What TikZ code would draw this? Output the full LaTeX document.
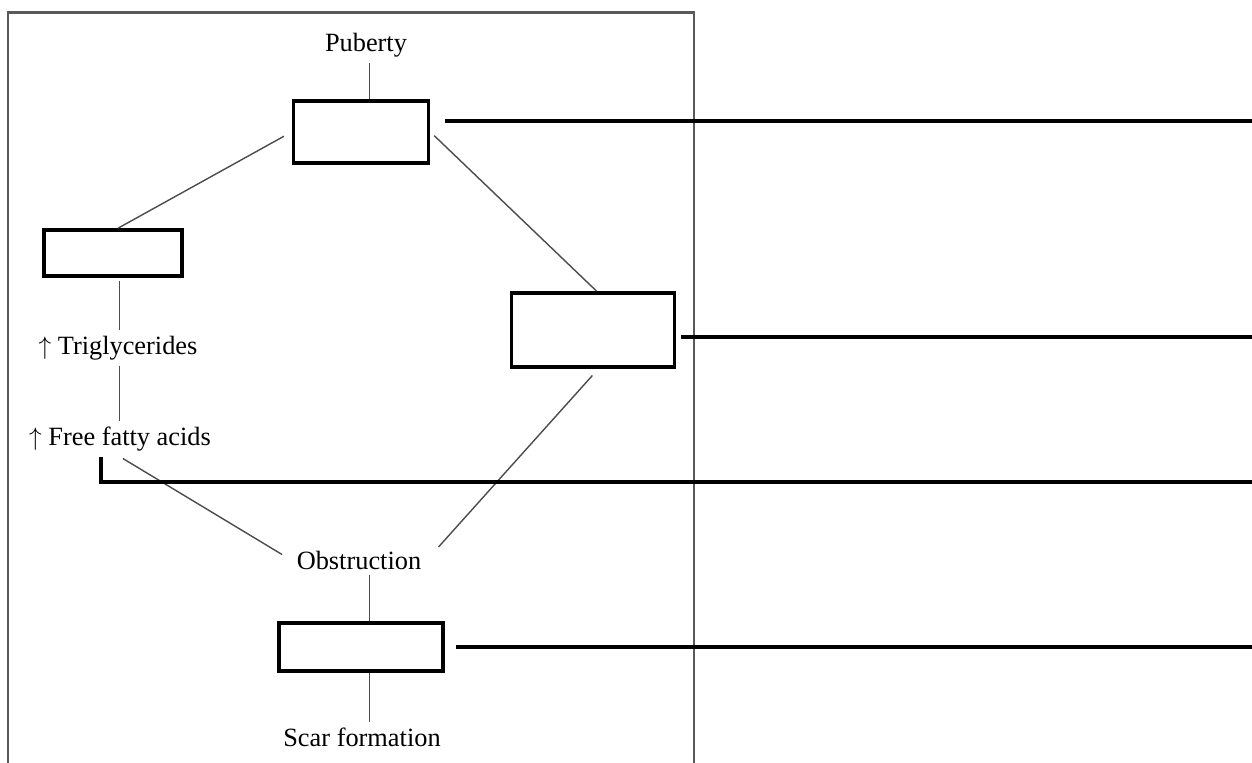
\documentclass[tikz,border=0pt]{standalone}
\usepackage{fontspec}
\setmainfont{Liberation Serif}
\usetikzlibrary{positioning}

\begin{document}
\begin{tikzpicture}[x=0.02cm, y=-0.02cm,
        box/.style={draw, rectangle, line width=2.2pt, inner sep=0pt},
        lbl/.style={font=\fontsize{15}{18}\selectfont, inner sep=3pt},
        link/.style={draw=black!70, line width=0.8pt},
        leader/.style={line width=2.3pt}]
        \useasboundingbox (0,0) rectangle (1252,762);

        % frame, open at the bottom
        \draw[black!65, line width=1.7pt] (8,770) -- (8,12) -- (694,12) -- (694,770);

        \node[lbl] (puberty) at (366,45) {Puberty};
        \node[box, minimum width=2.7cm, minimum height=1.24cm] (topbox) at (361,132) {};
        \node[box, minimum width=2.76cm, minimum height=0.92cm] (leftbox) at (113,253) {};
        \node[box, minimum width=3.26cm, minimum height=1.48cm] (rightbox) at (593,330) {};

        \node[lbl] (trig) at (118,348) {$\uparrow$ Triglycerides};
        \node[lbl] (ffa) at (120,439) {$\uparrow$ Free fatty acids};
        \node[lbl] (obs) at (359,560) {Obstruction};

        \node[box, minimum width=3.28cm, minimum height=0.96cm] (botbox) at (361,647) {};
        \node[lbl] (scar) at (362,737) {Scar formation};

        % right ends of the answer lines
        \coordinate (e1) at (1252,121);
        \coordinate (e2) at (1252,337);
        \coordinate (e3) at (1252,482);
        \coordinate (e4) at (1252,647);

        \draw[link] ([xshift=2pt]puberty.south) -- ([xshift=2pt]puberty.south |- topbox.north);
        \draw[link, shorten <=5pt] (topbox.west) -- ([xshift=3pt]leftbox.north);
        \draw[link, shorten <=3pt] (topbox.east) -- ([xshift=2pt]rightbox.north);
        \draw[link, shorten <=2pt] ([xshift=1pt]trig.north |- leftbox.south) -- ([xshift=1pt]trig.north);
        \draw[link] ([xshift=1pt]trig.south) -- ([xshift=1pt]trig.south |- ffa.north);
        \draw[link, shorten <=2pt, shorten >=6pt] (ffa.south) -- (obs.west);
        \draw[link, shorten <=5pt, shorten >=10pt] ([xshift=3pt]rightbox.south) -- (obs.east);
        \draw[link] ([xshift=6pt]obs.south) -- ([xshift=6pt]obs.south |- botbox.north);
        \draw[link] ([xshift=5pt]botbox.south) -- ([xshift=5pt]botbox.south |- scar.north);

        \draw[leader] (topbox.east) ++(15,-11) -- (e1);
        \draw[leader] (rightbox.east) ++(5,7) -- (e2);
        \draw[leader] ([xshift=-11pt]ffa.south) |- (e3);
        \draw[leader] (botbox.east) ++(11,0) -- (e4);
    \end{tikzpicture}
\end{document}
